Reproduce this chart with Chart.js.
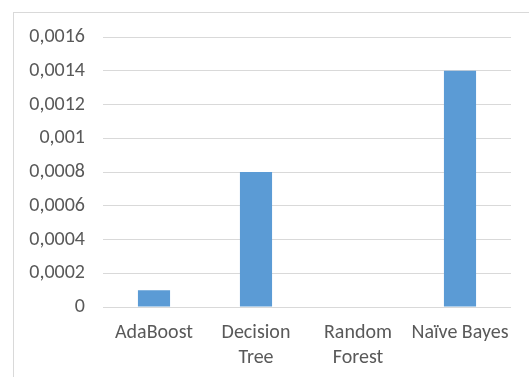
<!DOCTYPE html>
<html>
<head>
<meta charset="utf-8">
<script src="https://cdn.jsdelivr.net/npm/chart.js@4/dist/chart.umd.min.js"></script>
<style>
  html, body { margin: 0; padding: 0; background: #fff; }
  body { width: 529px; height: 377px; position: relative; overflow: hidden; }
  #frame { position: absolute; left: 13px; top: 12px; width: 540px; height: 400px;
           border: 1px solid #d9d9d9; box-sizing: border-box; }
  #wrap { position: absolute; left: 0; top: 0; width: 529px; height: 377px; }
</style>
</head>
<body>
<div id="frame"></div>
<div id="wrap"><canvas id="c" width="529" height="377"></canvas></div>
<script>
// Classifier names (multi-line labels as shown under the axis)
const categories = ['AdaBoost', ['Decision', 'Tree'], ['Random', 'Forest'], 'Naïve Bayes'];
// Measured values per classifier
const values = [0.0001, 0.0008, 0, 0.0014];
// Value axis range and spacing
const yMin = 0;
const yMax = 0.0016;
const yStep = 0.0002;

const fontFamily = 'Carlito, Calibri, Lato, "Open Sans", sans-serif';

new Chart(document.getElementById('c'), {
  type: 'bar',
  data: {
    labels: categories,
    datasets: [{
      data: values,
      backgroundColor: '#5b9bd5',
      borderWidth: 0,
      categoryPercentage: 1,
      barPercentage: 0.315
    }]
  },
  options: {
    responsive: false,
    animation: false,
    devicePixelRatio: 1,
    layout: { padding: { left: 0, right: 18, top: 37, bottom: 0 } },
    plugins: { legend: { display: false }, tooltip: { enabled: false } },
    scales: {
      x: {
        grid: { display: false, drawTicks: false },
        border: { display: false },
        ticks: {
          color: '#595959',
          font: { family: fontFamily, size: 20, lineHeight: 1.25 },
          padding: 13,
          maxRotation: 0,
          autoSkip: false
        },
        afterFit: (s) => { s.height = 70; }
      },
      y: {
        min: yMin,
        max: yMax,
        grid: { color: '#d9d9d9', lineWidth: 1, drawTicks: false },
        border: { display: false },
        ticks: {
          stepSize: yStep,
          color: '#595959',
          font: { family: fontFamily, size: 20 },
          padding: 18,
          callback: (v) => Number(v.toFixed(4)).toString().replace('.', ',')
        },
        afterFit: (s) => { s.width = 103; }
      }
    }
  }
});
</script>
</body>
</html>
